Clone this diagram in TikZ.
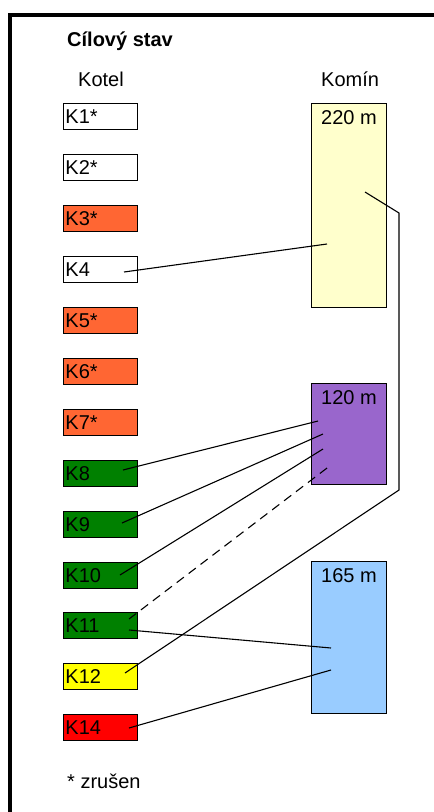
\documentclass[tikz,border=0pt]{standalone}
\usepackage{fontspec}
\setmainfont{Liberation Sans}
\definecolor{orng}{HTML}{FF6633}
\definecolor{grn}{HTML}{008000}
\definecolor{purp}{HTML}{9966CC}
\definecolor{lyel}{HTML}{FFFFCC}
\definecolor{lblue}{HTML}{99CCFF}
\definecolor{yel}{HTML}{FFFF00}
\definecolor{rd}{HTML}{FF0000}
\begin{document}
\begin{tikzpicture}[x=1pt,y=-1pt,
  kbox/.style={draw=black, line width=0.9pt, anchor=north west, minimum width=74pt, minimum height=26pt,
    inner sep=0pt, text width=70pt, align=left, text height=15pt, text depth=0pt, font=\fontsize{20}{22}\selectfont},
  chim/.style={draw=black, line width=0.9pt, anchor=north west, minimum width=75pt, inner sep=0pt},
  ctext/.style={anchor=base, font=\fontsize{20}{22}\selectfont, inner sep=0pt},
  lbl/.style={anchor=base west, font=\fontsize{20}{22}\selectfont, inner sep=0pt},
  conn/.style={line width=1.1pt}]
\useasboundingbox (0,0) rectangle (434,812);
\fill[white] (0,0) rectangle (434,812);
% frame
\draw[line width=4pt] (8,15) -- (434,15);
\draw[line width=4pt] (10,13) -- (10,812);
% titles
\node[lbl, font=\bfseries\fontsize{20}{22}\selectfont] (title) at (67,46) {Cílový stav};
\node[lbl] (kotel) at (78,86) {Kotel};
\node[lbl] (komin) at (321,86) {Komín};
\node[lbl] (note) at (67,788) {* zrušen};
% boilers
\node[kbox, fill=white] (K1) at (63,103) {K1*};
\node[kbox, fill=white] (K2) at (63,154) {K2*};
\node[kbox, fill=orng] (K3) at (63,205) {K3*};
\node[kbox, fill=white] (K4) at (63,256) {K4};
\node[kbox, fill=orng] (K5) at (63,307) {K5*};
\node[kbox, fill=orng] (K6) at (63,358) {K6*};
\node[kbox, fill=orng] (K7) at (63,409) {K7*};
\node[kbox, fill=grn] (K8) at (63,460) {K8};
\node[kbox, fill=grn] (K9) at (63,511) {K9};
\node[kbox, fill=grn] (K10) at (63,562) {K10};
\node[kbox, fill=grn] (K11) at (63,612) {K11};
\node[kbox, fill=yel] (K12) at (63,663) {K12};
\node[kbox, fill=rd] (K14) at (63,714) {K14};
% chimneys
\node[chim, fill=lyel, minimum height=204pt] (C220) at (311,103) {};
\node[chim, fill=purp, minimum height=101pt] (C120) at (311,383) {};
\node[chim, fill=lblue, minimum height=152pt] (C165) at (311,561) {};
\node[ctext] (t220) at (349,124) {220 m};
\node[ctext] (t120) at (349,404) {120 m};
\node[ctext] (t165) at (349,582) {165 m};
% connector end points
\coordinate (a4) at (124,272);  \coordinate (b4) at (327,244);
\coordinate (a8) at (123,470);  \coordinate (b8) at (318,421);
\coordinate (a9) at (122,523);  \coordinate (b9) at (323,434);
\coordinate (a10) at (120,575); \coordinate (b10) at (323,449);
\coordinate (a11d) at (129,619); \coordinate (b11d) at (331,465);
\coordinate (a11) at (129,630); \coordinate (b11) at (331,648);
\coordinate (a14) at (129,728); \coordinate (b14) at (331,670);
\coordinate (a12) at (125,673); \coordinate (p1) at (399,490);
\coordinate (p2) at (399,213); \coordinate (b12) at (365,192);
% connectors
\draw[conn] (a4) -- (b4);
\draw[conn] (a8) -- (b8);
\draw[conn] (a9) -- (b9);
\draw[conn] (a10) -- (b10);
\draw[conn, dash pattern=on 9pt off 6pt] (a11d) -- (b11d);
\draw[conn] (a11) -- (b11);
\draw[conn] (a14) -- (b14);
\draw[conn] (a12) -- (p1) -- (p2) -- (b12);
\end{tikzpicture}
\end{document}
